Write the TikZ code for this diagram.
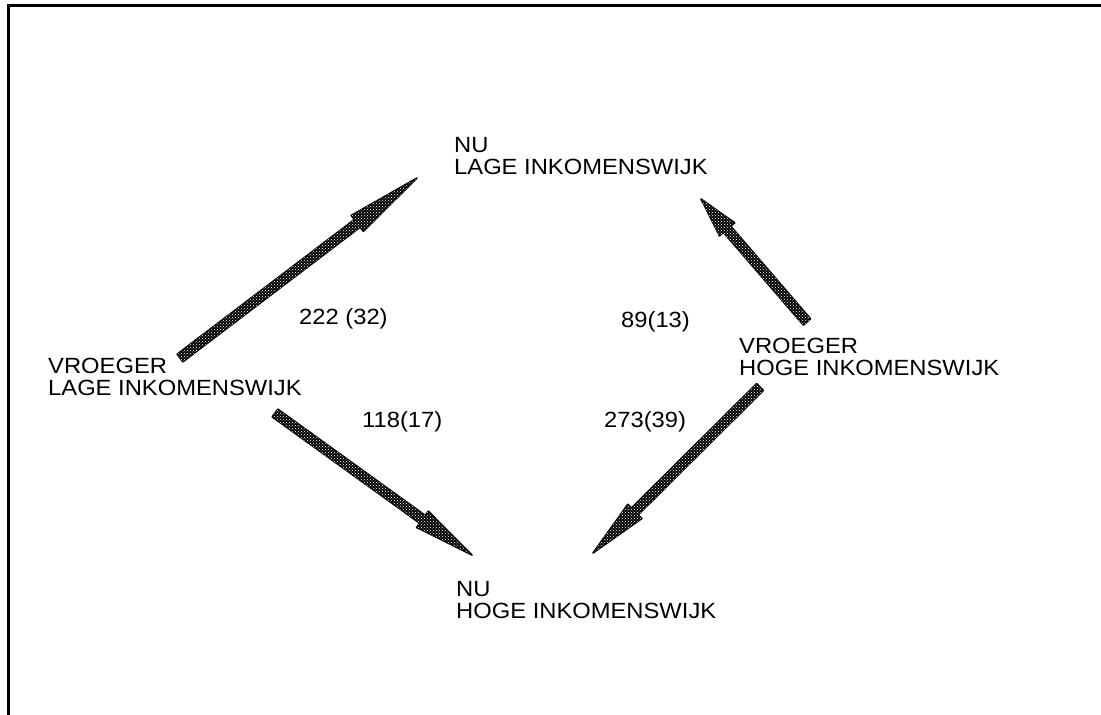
\documentclass[tikz,border=0pt]{standalone}
\usepackage{fontspec}
\setmainfont{Liberation Sans}[FakeStretch=1.08]
\usetikzlibrary{calc,patterns}
\tikzset{
  lbl/.style={inner sep=0pt, align=left, anchor=base west, font=\fontsize{22}{21.5}\selectfont},
  arrowbody/.style={draw=black, line width=1.6pt, line join=round, fill=black,
    postaction={pattern=crosshatch dots, pattern color=white}},
  frame/.style={line width=3pt, line join=miter}
}
\newcommand\fatarrow[3]{%
  \coordinate (hb) at ($(#2)!#3!(#1)$);
  \path[arrowbody] ($(#1)!4.8pt!90:(#2)$) -- ($(hb)!4.8pt!90:(#2)$) -- ($(hb)!10pt!90:(#2)$) -- (#2)
    -- ($(hb)!10pt!-90:(#2)$) -- ($(hb)!4.8pt!-90:(#2)$) -- ($(#1)!4.8pt!-90:(#2)$) -- cycle;}
\begin{document}
\begin{tikzpicture}[x=1pt,y=-1pt]
\useasboundingbox (0,0) rectangle (1101,715);
\draw[frame] (8.3,715) -- (8.3,5.5) -- (1101,5.5);
% nodes
\node[lbl] (nulage) at (454,174) {NU\\LAGE INKOMENSWIJK};
\node[lbl] (nuhoge) at (456,618) {NU\\HOGE INKOMENSWIJK};
\node[lbl] (vrlage) at (48,395) {VROEGER\\LAGE INKOMENSWIJK};
\node[lbl] (vrhoge) at (739,375) {VROEGER\\HOGE INKOMENSWIJK};
% labels
\node[lbl] (l1) at (299,324) {222 (32)};
\node[lbl] (l2) at (362,427) {118(17)};
\node[lbl] (l3) at (621,327) {89(13)};
\node[lbl] (l4) at (604,427) {273(39)};
% arrows
\coordinate (a1s) at (180,358);
\coordinate (a1t) at (417,178);
\coordinate (a2s) at (275,413);
\coordinate (a2t) at (472,555);
\coordinate (a3s) at (760,387);
\coordinate (a3t) at (593,553);
\coordinate (a4s) at (807,322);
\coordinate (a4t) at (701,199);
\fatarrow{a1s}{a1t}{75pt}
\fatarrow{a2s}{a2t}{61pt}
\fatarrow{a3s}{a3t}{59pt}
\fatarrow{a4s}{a4t}{40pt}
\end{tikzpicture}
\end{document}
